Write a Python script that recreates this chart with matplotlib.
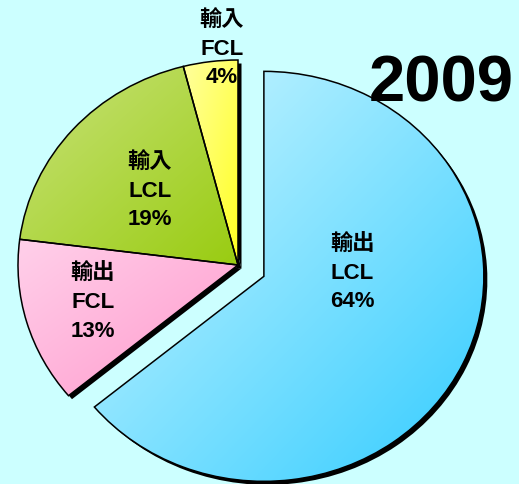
import numpy as np
import matplotlib
matplotlib.use('Agg')
import matplotlib.pyplot as plt
from matplotlib.colors import LinearSegmentedColormap

# slice data (clockwise from 12 o'clock)
labels = ['輸出\nLCL\n64%', '輸出\nFCL\n13%', '輸入\nLCL\n19%', '輸入\nFCL\n4%']
shares = [64, 13, 19, 4]
explode = [0.13, 0, 0, 0]
# gradient colours: light (top-left) -> dark (bottom-right)
grad_light = ['#D2F8FF', '#FFD0EA', '#C8E27A', '#FFFF9E']
grad_dark = ['#33CCFF', '#FF99CC', '#99CC11', '#FFFF22']
# label positions in data units
label_pos = [(0.52, -0.04), (-0.66, -0.185), (-0.40, 0.36), (-0.073, 1.05)]
title = '2009'

bg = '#CCFFFF'
fig = plt.figure(figsize=(5.19, 4.84), dpi=100, facecolor=bg)
ax = fig.add_axes([0, 0, 1, 1])
ax.set_facecolor(bg)

# shadow pie, shifted slightly down-right
sx, sy = 3.5 / 220, -3.5 / 205
sh, _ = ax.pie(shares, explode=explode, startangle=90, counterclock=False,
               center=(sx, sy), colors=['black'] * 4,
               wedgeprops=dict(linewidth=0))

wedges, _ = ax.pie(shares, explode=explode, startangle=90, counterclock=False,
                   colors=grad_dark,
                   wedgeprops=dict(edgecolor='black', linewidth=1.1))

ax.set_aspect('auto')
ax.axis('off')

# gradient fill clipped to each wedge
for w, c1, c2 in zip(wedges, grad_light, grad_dark):
    bb = w.get_path().get_extents()
    cmap = LinearSegmentedColormap.from_list('g', [c1, c2])
    gx, gy = np.meshgrid(np.linspace(0, 1, 200), np.linspace(1, 0, 200))
    grad = (gx + (1 - gy)) / 2
    im = ax.imshow(grad, cmap=cmap, extent=[bb.x0, bb.x1, bb.y0, bb.y1],
                   origin='upper', aspect='auto', zorder=w.get_zorder() + 0.1,
                   interpolation='bilinear')
    im.set_clip_path(w)
    # outline back on top
    w.set_facecolor('none')
    w.set_zorder(w.get_zorder() + 0.2)

ax.set_xlim(-238 / 220, (519 - 238) / 220)
ax.set_ylim((265 - 484) / 205, 265 / 205)

fam = ['Liberation Sans', 'Noto Sans CJK TC']
for lab, (x, y) in zip(labels, label_pos):
    ax.text(x, y, lab, ha='center', va='center', fontsize=16, fontweight='bold',
            family=fam, linespacing=1.45, zorder=10)

ax.text(0.99, 0.79, title, transform=ax.transAxes, ha='right', va='baseline',
        fontsize=47, fontweight='bold', family=fam, zorder=10)

fig.savefig('out.png', dpi=100, facecolor=bg)
